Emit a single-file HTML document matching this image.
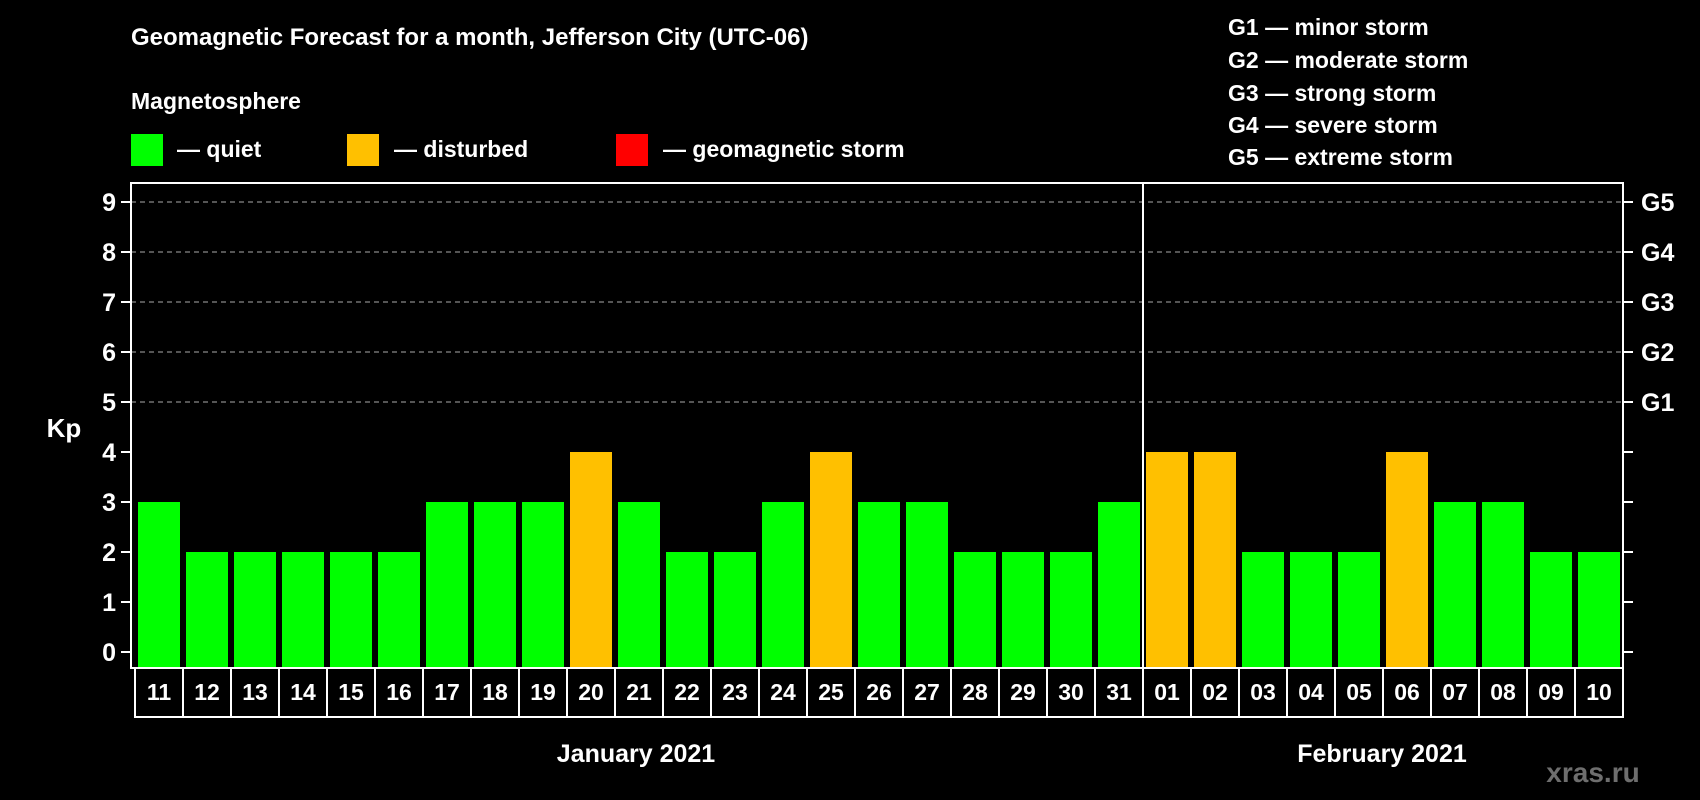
<!DOCTYPE html>
<html><head><meta charset="utf-8"><style>
body{margin:0;background:#000;}
svg{display:block;font-family:"Liberation Sans",Arial,sans-serif;font-weight:bold;}
</style></head><body>
<svg id="chart" width="1700" height="800" viewBox="0 0 1700 800" xmlns="http://www.w3.org/2000/svg">
<rect width="1700" height="800" fill="#000"/>
<text x="131" y="45" fill="#fff" font-size="24">Geomagnetic Forecast for a month, Jefferson City (UTC-06)</text>
<text x="131" y="109" fill="#fff" font-size="23">Magnetosphere</text>
<g><rect x="131" y="134" width="32" height="32" fill="#00ff00"/><text x="177" y="157" fill="#fff" font-size="23">— quiet</text></g>
<g><rect x="347" y="134" width="32" height="32" fill="#ffc000"/><text x="394" y="157" fill="#fff" font-size="23">— disturbed</text></g>
<g><rect x="616" y="134" width="32" height="32" fill="#ff0000"/><text x="663" y="157" fill="#fff" font-size="23">— geomagnetic storm</text></g>
<g fill="#fff" font-size="23">
<text x="1228" y="35">G1 — minor storm</text>
<text x="1228" y="68">G2 — moderate storm</text>
<text x="1228" y="101">G3 — strong storm</text>
<text x="1228" y="133">G4 — severe storm</text>
<text x="1228" y="165">G5 — extreme storm</text>
</g>
<text x="64" y="437" fill="#fff" font-size="26" text-anchor="middle">Kp</text>
<text x="636" y="762" fill="#fff" font-size="25" text-anchor="middle">January 2021</text>
<text x="1382" y="762" fill="#fff" font-size="25" text-anchor="middle">February 2021</text>
<text x="1593" y="782" fill="#6e6e6e" font-size="28" text-anchor="middle">xras.ru</text>
<g id="plot"></g>
</svg>
<script>
const days=["11","12","13","14","15","16","17","18","19","20","21","22","23","24","25","26","27","28","29","30","31","01","02","03","04","05","06","07","08","09","10"];
const kpValues=[3,2,2,2,2,2,3,3,3,4,3,2,2,3,4,3,3,2,2,2,3,4,4,2,2,2,4,3,3,2,2];
const yTicks=[0,1,2,3,4,5,6,7,8,9];
const gLabels=["G1","G2","G3","G4","G5"];
const gLevels=[5,6,7,8,9];
const monthBreakIndex=21;

const NS="http://www.w3.org/2000/svg";
const g=document.getElementById('plot');
const x0=135,slot=48,plotL=131,plotR=1623,plotT=183,plotB=668;
const y=v=>652-v*50;
const x=i=>x0+i*slot;
function mk(t,a){const e=document.createElementNS(NS,t);for(const k in a)e.setAttribute(k,a[k]);g.appendChild(e);return e;}
gLevels.forEach((v,i)=>{
  const l=mk('line',{x1:plotL,x2:plotR,y1:y(v),y2:y(v),stroke:'#888','stroke-width':1.2,'stroke-dasharray':'5,4'});
  
  
  const t=mk('text',{x:1641,y:y(v)+9,fill:'#fff','font-size':25});
  t.textContent=gLabels[i];
  
  
});
yTicks.forEach(v=>{
  mk('line',{x1:121,x2:plotL,y1:y(v),y2:y(v),stroke:'#fff','stroke-width':2});
  mk('line',{x1:plotR,x2:1633,y1:y(v),y2:y(v),stroke:'#fff','stroke-width':2});
  const t=mk('text',{x:116,y:y(v)+9,fill:'#fff','font-size':25,'text-anchor':'end'});
  t.textContent=v;
  
  
});
kpValues.forEach((v,i)=>{
  const c=v>=5?'#ff0000':(v>=4?'#ffc000':'#00ff00');
  const r=mk('rect',{x:x(i)+3,y:y(v),width:42,height:plotB-y(v),fill:c});
  
  
  const b=mk('rect',{x:x(i),y:plotB,width:slot,height:49,fill:'none',stroke:'#fff','stroke-width':2});
  
  
  const t=mk('text',{x:x(i)+slot/2,y:700,fill:'#fff','font-size':23,'text-anchor':'middle'});
  t.textContent=days[i];
  
  
});
const f=mk('rect',{x:plotL,y:plotT,width:plotR-plotL,height:plotB-plotT,fill:'none',stroke:'#fff','stroke-width':2});


const d=mk('line',{x1:x(monthBreakIndex),x2:x(monthBreakIndex),y1:plotT,y2:plotB,stroke:'#fff','stroke-width':2});


</script>
</body></html>
